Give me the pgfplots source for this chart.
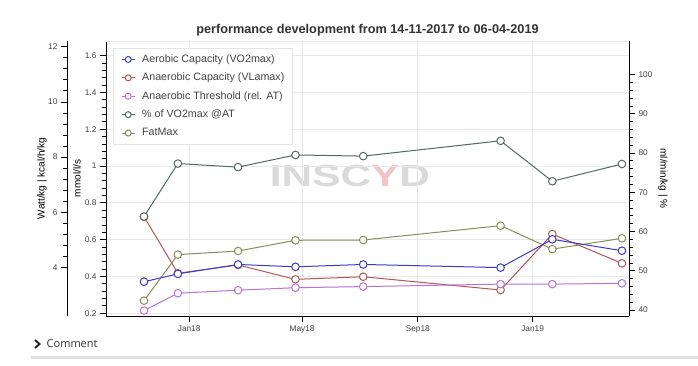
\documentclass[border=0pt]{standalone}
\usepackage{pgfplots}
\pgfplotsset{compat=1.18}
\usepackage{fontspec}
\setmainfont{Liberation Sans}
\newfontfamily\commentfont{Open Sans}
\definecolor{cAer}{RGB}{60,60,200}
\definecolor{cAnC}{RGB}{180,85,85}
\definecolor{cAT}{RGB}{185,115,215}
\definecolor{cPct}{RGB}{85,105,95}
\definecolor{cFat}{RGB}{140,140,90}
\definecolor{tickc}{RGB}{68,68,68}
\definecolor{titlec}{RGB}{51,51,51}
\definecolor{gridc}{RGB}{232,232,232}
\definecolor{legc}{RGB}{229,229,229}
\definecolor{chev}{RGB}{30,30,30}
\definecolor{sepc}{RGB}{224,224,224}
\definecolor{wm}{RGB}{218,218,218}
\definecolor{wmy}{RGB}{242,196,196}
\pgfplotsset{
  base/.style={scale only axis, height=275pt, anchor=south west,
    tick align=outside, major tick length=6pt, minor tick length=4pt,
    tick style={black, line width=0.7pt}, axis line style={black, line width=0.8pt},
    ticklabel style={font=\fontsize{8.3}{10}\selectfont, text=tickc},
    /pgf/number format/assume math mode=true, scaled y ticks=false, clip=false,
    label style={font=\fontsize{11.4}{13}\selectfont, text=tickc}},
  ser/.style={color=#1, line width=1pt, mark=*, mark size=3.8pt,
    mark options={fill=white, draw=#1, line width=1pt}},
}
\begin{document}
\begin{tikzpicture}
\path[use as bounding box, fill=white] (0pt,0pt) rectangle (698pt,366pt);
% watermark
\node[font=\bfseries\fontsize{30.7}{32}\selectfont, xscale=1.38] at (350pt,190pt)
  {\textcolor{wm}{INSC}\textcolor{wmy}{Y}\textcolor{wm}{D}};
% main axis: mmol/l/s
\begin{axis}[base, at={(106pt,50pt)}, width=523pt,
  xmin=-88.4, xmax=467.5, ymin=0.1848, ymax=1.679,
  axis x line*=bottom, axis y line*=left,
  xtick={0,120,243,365}, xticklabels={Jan18,May18,Sep18,Jan19},
  ytick={0.2,0.4,0.6,0.8,1,1.2,1.4,1.6},
  yticklabels={0.2,0.4,0.6,0.8,1,1.2,1.4,1.6},
  minor y tick num=4,
  grid=major, major grid style={gridc, line width=0.8pt},
  ylabel={mmol/l/s},
  every axis y label/.style={at={(axis description cs:-0.0555,0.5)}, anchor=center, rotate=90},
]
\draw[gridc, line width=0.8pt] (rel axis cs:0,1) -- (rel axis cs:1,1);
\addplot[ser=cAnC] coordinates {(-48,0.724) (-12,0.417) (52,0.462) (113,0.384) (185,0.398) (331,0.326) (386,0.630) (460,0.471)};
\end{axis}
% outer left axis: Watt/kg | kcal/h/kg
\begin{axis}[base, at={(67pt,50pt)}, width=562pt,
  xmin=-129.85, xmax=467.5, ymin=2.234, ymax=12.207,
  axis x line=none, axis y line*=left,
  ytick={4,6,8,10,12}, yticklabels={4,6,8,10,12},
  minor y tick num=4,
  ylabel={Watt/kg | kcal/h/kg},
  every axis y label/.style={at={(axis description cs:-0.0445,0.5)}, anchor=center, rotate=90},
]
\addplot[ser=cAT] coordinates {(-48,2.43) (-12,3.06) (52,3.17) (113,3.26) (185,3.30) (331,3.39) (386,3.39) (460,3.42)};
\addplot[ser=cFat] coordinates {(-48,2.79) (-12,4.46) (52,4.59) (113,4.98) (185,4.99) (331,5.51) (386,4.66) (460,5.05)};
\end{axis}
% right axis: ml/min/kg | %
\begin{axis}[base, at={(106pt,50pt)}, width=523pt,
  xmin=-88.4, xmax=467.5, ymin=38.47, ymax=108.53,
  axis x line=none, axis y line*=right,
  ytick={40,50,60,70,80,90,100}, yticklabels={40,50,60,70,80,90,100},
  minor y tick num=4,
  ylabel={ml/min/kg | \%},
  every axis y label/.style={at={(axis description cs:1.065,0.5)}, anchor=center, rotate=-90},
  legend cell align=left,
  legend style={at={(axis description cs:0.0134,0.9745)}, anchor=north west,
    draw=legc, fill=white,
    font=\fontsize{10.7}{12}\selectfont, text=tickc,
    inner xsep=8pt, inner ysep=6pt, row sep=7.9pt,
    nodes={inner sep=0pt, text height=8pt, text depth=2.5pt, anchor=west},
    /tikz/every odd column/.append style={column sep=7pt}},
  legend image code/.code={\draw[mark repeat=2, mark phase=2, mark size=3pt] plot coordinates {(0pt,0pt) (6.5pt,0pt) (13pt,0pt)};},
]
\addplot[ser=cAer, forget plot] coordinates {(-48,47.2) (-12,49.2) (52,51.6) (113,51.0) (185,51.6) (331,50.8) (386,58.0) (460,55.1)};
\addplot[ser=cPct, forget plot] coordinates {(-48,63.8) (-12,77.3) (52,76.4) (113,79.5) (185,79.2) (331,83.1) (386,72.8) (460,77.2)};
\addlegendimage{ser=cAer}
\addlegendentry{Aerobic Capacity (VO2max)}
\addlegendimage{ser=cAnC}
\addlegendentry{Anaerobic Capacity (VLamax)}
\addlegendimage{ser=cAT}
\addlegendentry{Anaerobic Threshold (rel. AT)}
\addlegendimage{ser=cPct}
\addlegendentry{\% of VO2max @AT}
\addlegendimage{ser=cFat}
\addlegendentry{FatMax}
\end{axis}
% title
\node[font=\bfseries\fontsize{12.7}{15}\selectfont, text=titlec] at (367.5pt,336pt)
  {performance development from 14-11-2017 to 06-04-2019};
% comment row
\draw[line width=1.8pt, chev] (35pt,26pt) -- (39.5pt,22pt) -- (35pt,18pt);
\node[anchor=west, font=\commentfont\fontsize{11}{13}\selectfont, text=titlec, inner sep=0pt] at (46.5pt,22pt) {Comment};
\draw[line width=2.5pt, sepc] (31pt,8.5pt) -- (698pt,8.5pt);
\end{tikzpicture}
\end{document}
